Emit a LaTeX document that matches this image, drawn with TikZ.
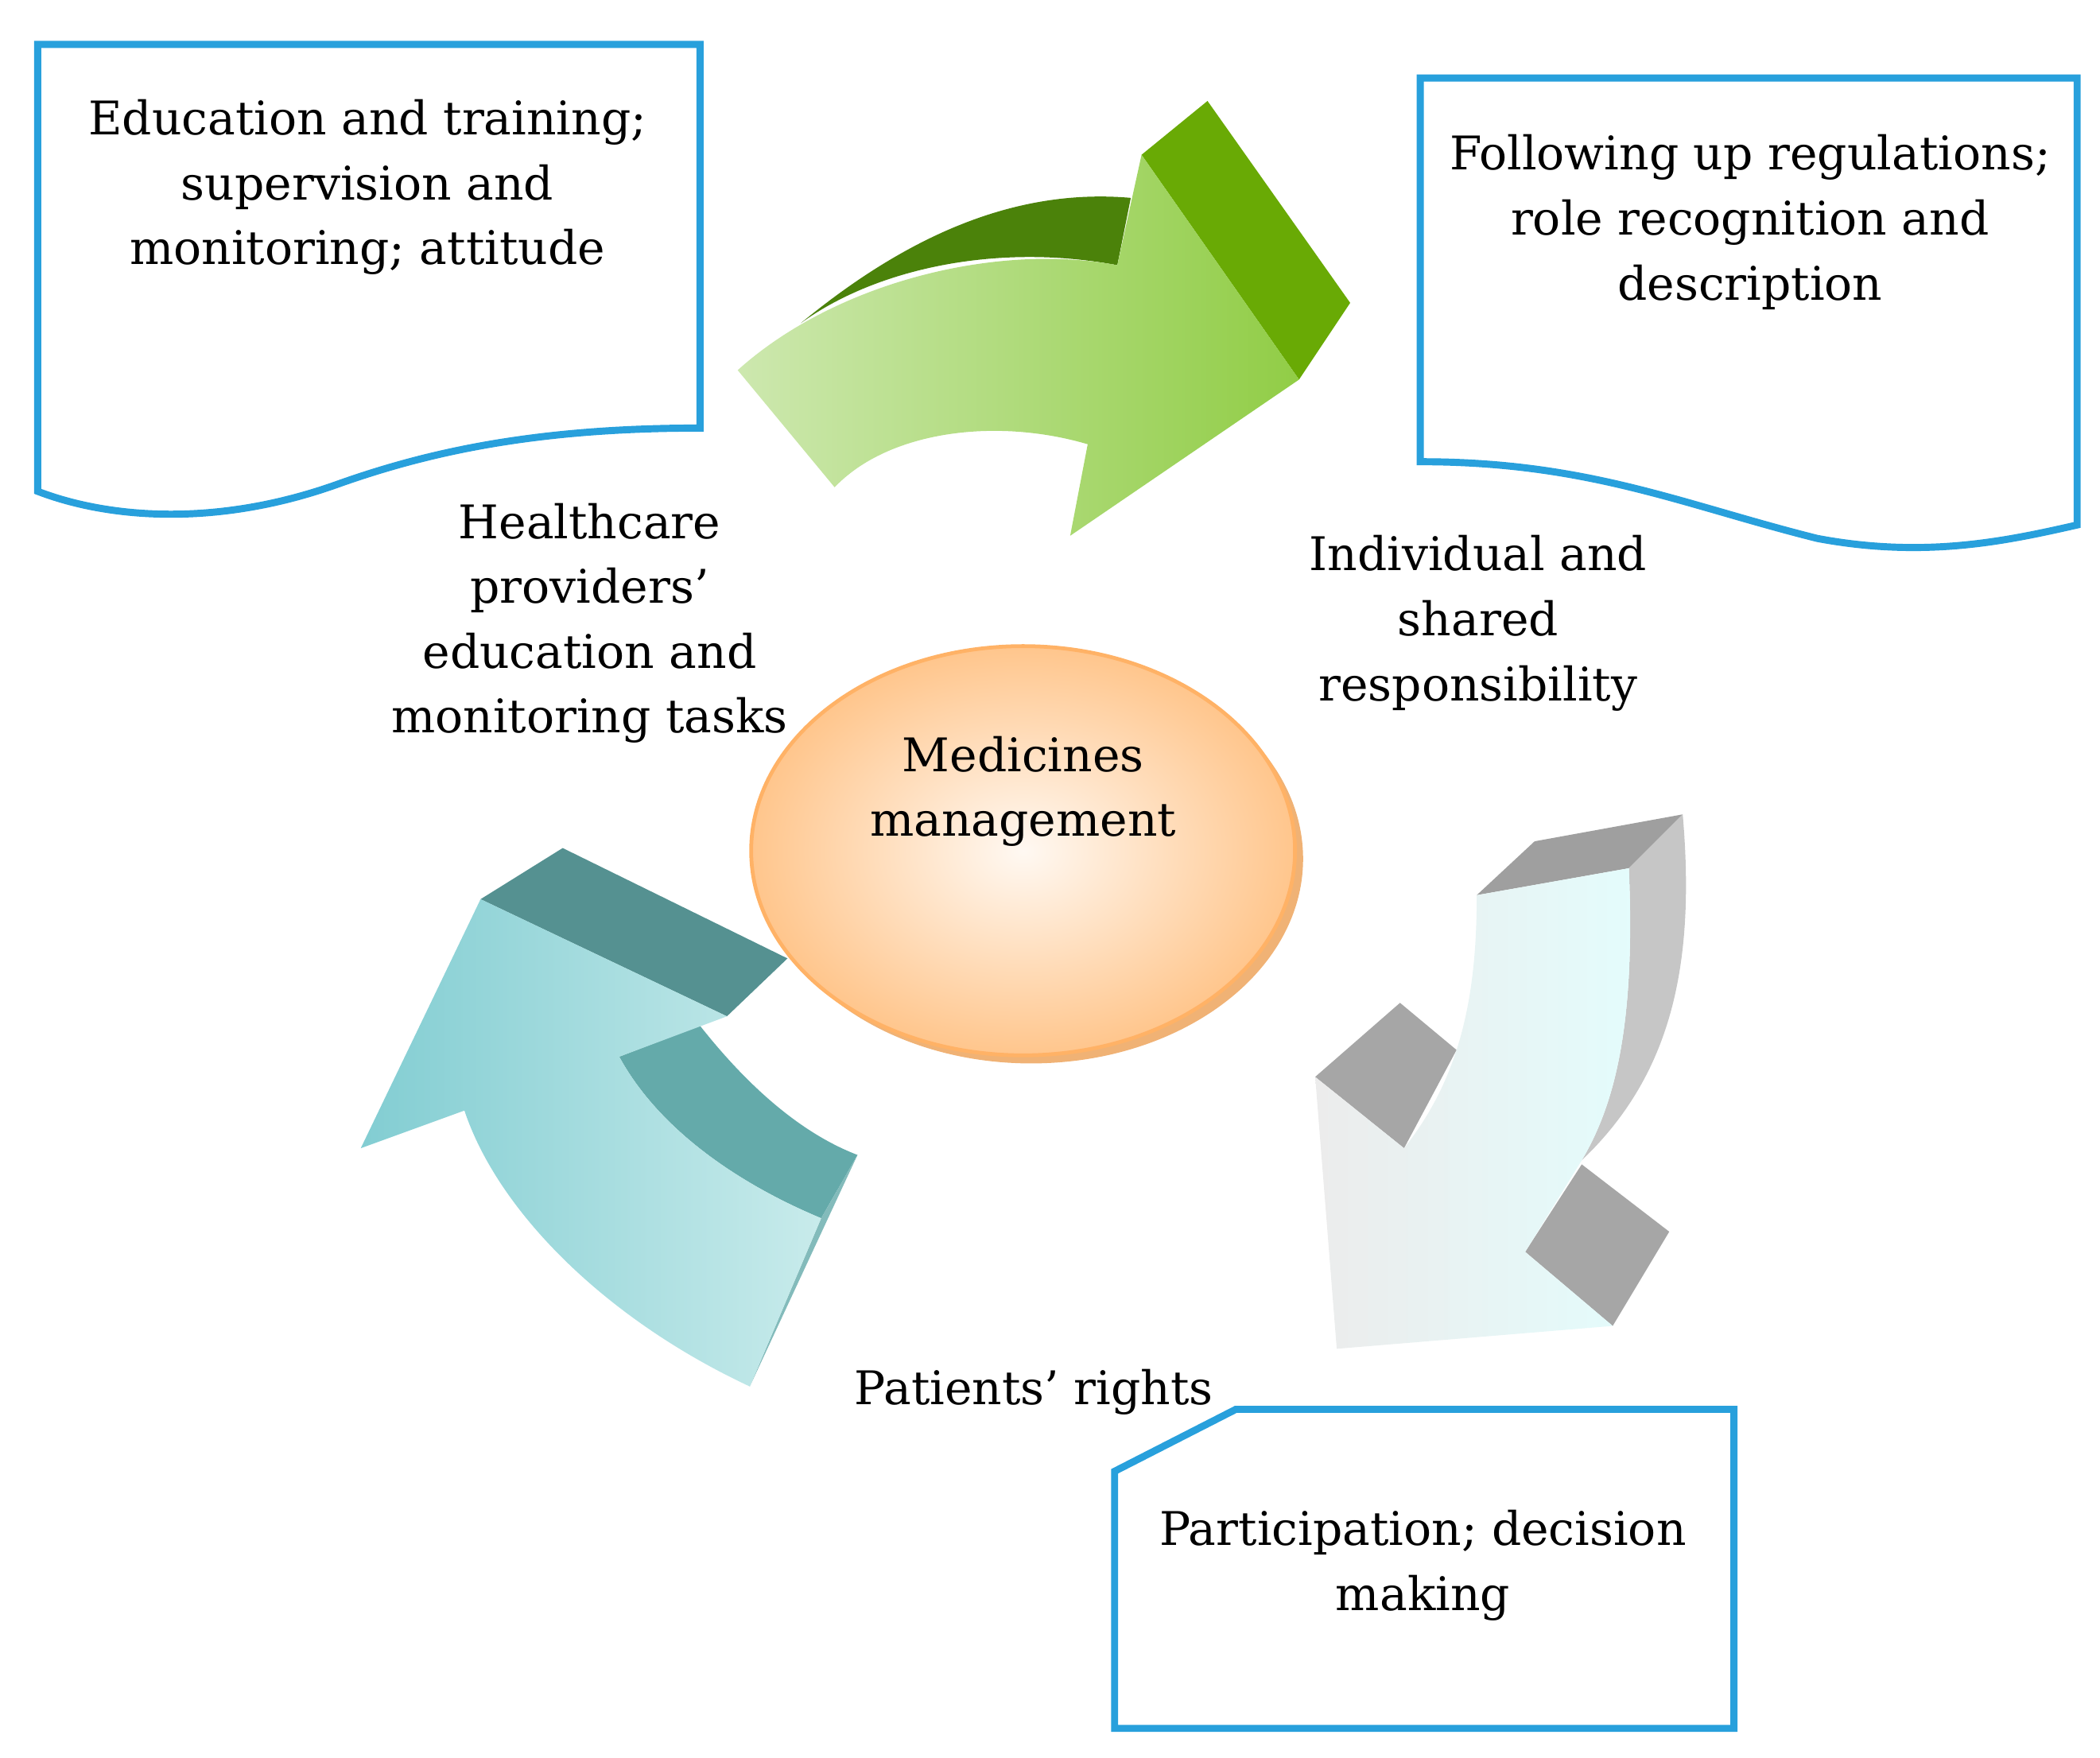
\documentclass[tikz,border=0pt]{standalone}
\usepackage{fontspec}
\setmainfont{DejaVu Serif}
\definecolor{bx}{RGB}{40,160,220}
\definecolor{gdark}{RGB}{75,130,10}
\definecolor{ghead}{RGB}{105,170,5}
\definecolor{glight}{RGB}{205,232,175}
\definecolor{gmid}{RGB}{145,205,70}
\definecolor{tdark}{RGB}{85,145,145}
\definecolor{tmid}{RGB}{100,170,170}
\definecolor{tlight}{RGB}{130,205,210}
\definecolor{tpale}{RGB}{200,235,235}
\begin{document}
\begin{tikzpicture}[x=0.01cm,y=-0.01cm,
 box/.style={draw=bx,line width=1.5pt},
 lbl/.style={align=center,font=\fontsize{9.8}{13.7}\selectfont}]
\useasboundingbox (0,0) rectangle (1560,1306);
% boxes
\draw[box] (28,33) -- (520,33) -- (520,318) .. controls (400,318) and (320,335) .. (250,360) .. controls (160,392) and (80,385) .. (28,365) -- cycle;
\draw[box] (1055,58) -- (1543,58) -- (1543,390) .. controls (1490,402) and (1430,415) .. (1350,400) .. controls (1250,375) and (1180,343) .. (1055,343) -- cycle;
\draw[box] (918,1047) -- (1288,1047) -- (1288,1284) -- (828,1284) -- (828,1093) -- cycle;
\node[lbl] (t1) at (273,139) {Education and training;\\supervision and\\monitoring; attitude};
\node[lbl] (t2) at (1300,165) {Following up regulations;\\role recognition and\\description};
\node[lbl] (t3) at (1057,1163) {Participation; decision\\making};
% ellipse
\fill[orange!60!brown!60] (766,638) ellipse (202 and 152);
\shade[inner color=orange!5,outer color=orange!45] (760,632) ellipse (202 and 152);
\draw[orange!60,line width=0.8pt] (760,632) ellipse (202 and 152);
\node[lbl] (c) at (760,588) {Medicines\\management};
\node[lbl] (l1) at (438,463) {Healthcare\\providers’\\education and\\monitoring tasks};
\node[lbl] (l2) at (1098,463) {Individual and\\shared\\responsibility};
\node[lbl] (l3) at (768,1034) {Patients’ rights};
% green arrow
\fill[gdark] (595,240) .. controls (680,170) and (760,140) .. (840,147) -- (830,197) .. controls (740,180) and (650,200) .. (595,240) -- cycle;
\fill[ghead] (848,115) -- (897,75) -- (1003,225) -- (965,282) -- cycle;
\shade[left color=glight,right color=gmid] (548,275) .. controls (620,210) and (740,180) .. (830,197) -- (848,115) -- (965,282) -- (795,398) -- (808,330) .. controls (740,310) and (660,320) .. (620,362) -- cycle;
% teal arrow
\fill[tdark] (357,668) -- (418,630) -- (585,712) -- (540,755) -- cycle;
\fill[tmid] (460,785) -- (520,762) .. controls (550,800) and (590,840) .. (637,858) -- (610,905) .. controls (550,880) and (490,840) .. (460,785) -- cycle;
\fill[tmid!80!white] (637,858) -- (557,1030) -- (610,905) -- cycle;
\shade[left color=tlight,right color=tpale] (268,853) -- (357,668) -- (540,755) -- (460,785) .. controls (490,840) and (550,880) .. (610,905) -- (557,1030) .. controls (450,980) and (370,900) .. (345,825) -- cycle;
% grey arrow
\fill[gray!75] (1097,665) -- (1140,625) -- (1250,605) -- (1210,645) -- cycle;
\fill[gray!45] (1210,645) -- (1250,605) .. controls (1260,720) and (1240,800) .. (1175,862) .. controls (1200,820) and (1215,760) .. (1210,645) -- cycle;
\fill[gray!70] (977,800) -- (1040,745) -- (1082,780) -- (1043,853) -- cycle;
\fill[gray!70] (1133,930) -- (1175,865) -- (1240,915) -- (1198,985) -- cycle;
\shade[left color=gray!15,right color=gray!20!cyan!12] (1097,665) -- (1210,645) .. controls (1215,760) and (1200,820) .. (1175,862) -- (1133,930) -- (1198,985) -- (993,1002) -- (977,800) -- (1043,853) .. controls (1085,800) and (1097,740) .. (1097,665) -- cycle;
\end{tikzpicture}
\end{document}
